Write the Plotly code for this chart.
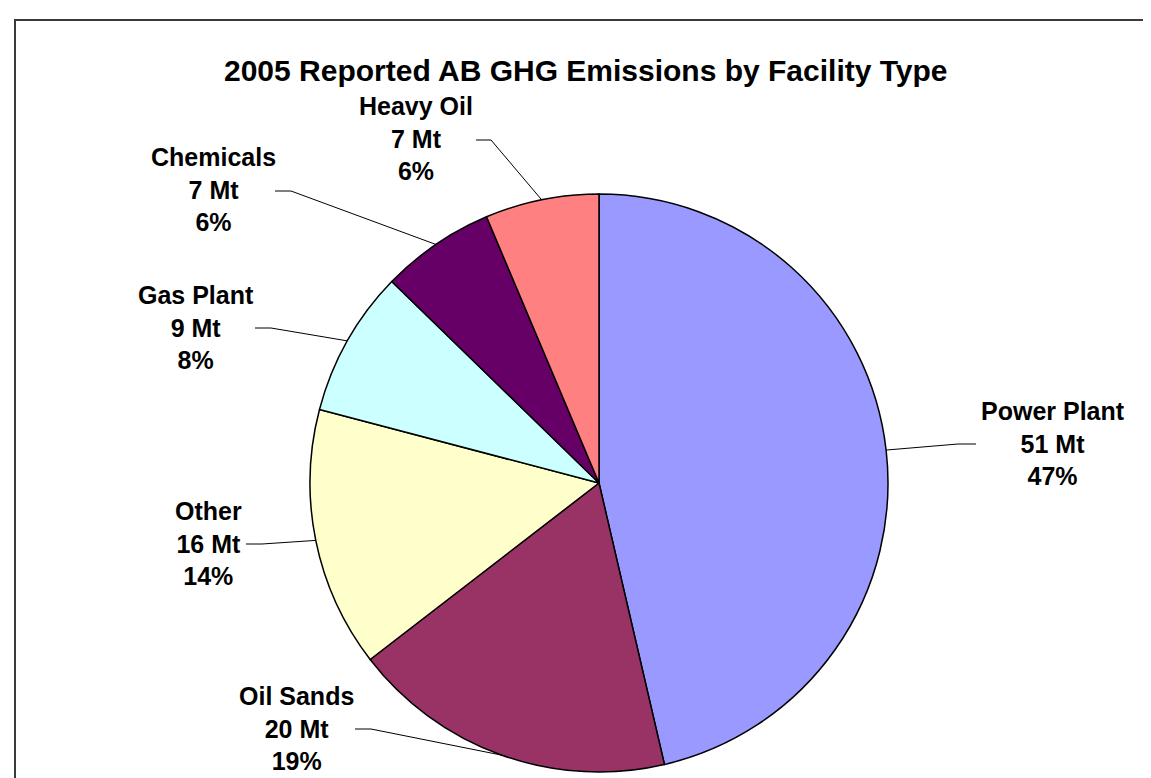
import math
import plotly.graph_objects as go

# ---- data ----
categories = ["Power Plant", "Oil Sands", "Other", "Gas Plant", "Chemicals", "Heavy Oil"]
values_mt = [51, 20, 16, 9, 7, 7]
pct_labels = ["47%", "19%", "14%", "8%", "6%", "6%"]
colors = ["#9999FF", "#993366", "#FFFFCC", "#CCFFFF", "#660066", "#FF8080"]
title_text = "2005 Reported AB GHG Emissions by Facility Type"

# ---- layout constants (pixels) ----
W, H = 1151, 778
CX, CY, R = 591, 475, 289
# label centre (middle line), leader start (near text), elbow x
label_pos = {
    "Power Plant": (1045, 435, 968, 950),
    "Oil Sands": (289, 720, 347, 363),
    "Other": (200, 535, 238, 254),
    "Gas Plant": (188, 319, 247, 263),
    "Chemicals": (205, 182, 267, 283),
    "Heavy Oil": (408, 131, 468, 483),
}


def px(x):
    return x / W


def py(y):
    return 1 - y / H


fig = go.Figure(
    go.Pie(
        labels=categories,
        values=values_mt,
        sort=False,
        direction="clockwise",
        rotation=0,
        marker=dict(colors=colors, line=dict(color="#000000", width=1.5)),
        textinfo="none",
        hoverinfo="label+value+percent",
        domain=dict(x=[px(CX - R), px(CX + R)], y=[py(CY + R), py(CY - R)]),
        showlegend=False,
    )
)

shapes = []
annotations = []
total = sum(values_mt)
cum = 0.0
font = dict(family="Liberation Sans, Arial, sans-serif", size=25, color="#000000")
for cat, v, pct in zip(categories, values_mt, pct_labels):
    mid = (cum + v / 2) / total * 2 * math.pi
    cum += v
    ex = CX + R * math.sin(mid)
    ey = CY - R * math.cos(mid)
    lx, ly, sx, elx = label_pos[cat]
    path = f"M {px(sx)} {py(ly + 1)} L {px(elx)} {py(ly + 1)} L {px(ex)} {py(ey)}"
    shapes.append(dict(type="path", xref="paper", yref="paper", path=path,
                       line=dict(color="#000000", width=1)))
    annotations.append(dict(
        x=px(lx), y=py(ly), xref="paper", yref="paper",
        xanchor="center", yanchor="middle", showarrow=False,
        text=f"<b>{cat}</b><br><b>{v} Mt</b><br><b>{pct}</b>",
        font=font, align="center",
    ))

annotations.append(dict(
    x=px(578), y=py(63), xref="paper", yref="paper",
    xanchor="center", yanchor="middle", showarrow=False,
    text=f"<b>{title_text}</b>",
    font=dict(family="Liberation Sans, Arial, sans-serif", size=30, color="#000000"),
))

# chart border (extends beyond right/bottom edges)
shapes.append(dict(type="rect", xref="paper", yref="paper",
                   x0=px(7), x1=px(W + 20), y0=py(H + 20), y1=py(12),
                   line=dict(color="#3a3a3a", width=2), fillcolor="rgba(0,0,0,0)",
                   layer="above"))

fig.update_layout(
    width=W, height=H,
    margin=dict(l=0, r=0, t=0, b=0),
    paper_bgcolor="#FFFFFF",
    plot_bgcolor="#FFFFFF",
    shapes=shapes,
    annotations=annotations,
)

fig.write_html("out.html")
